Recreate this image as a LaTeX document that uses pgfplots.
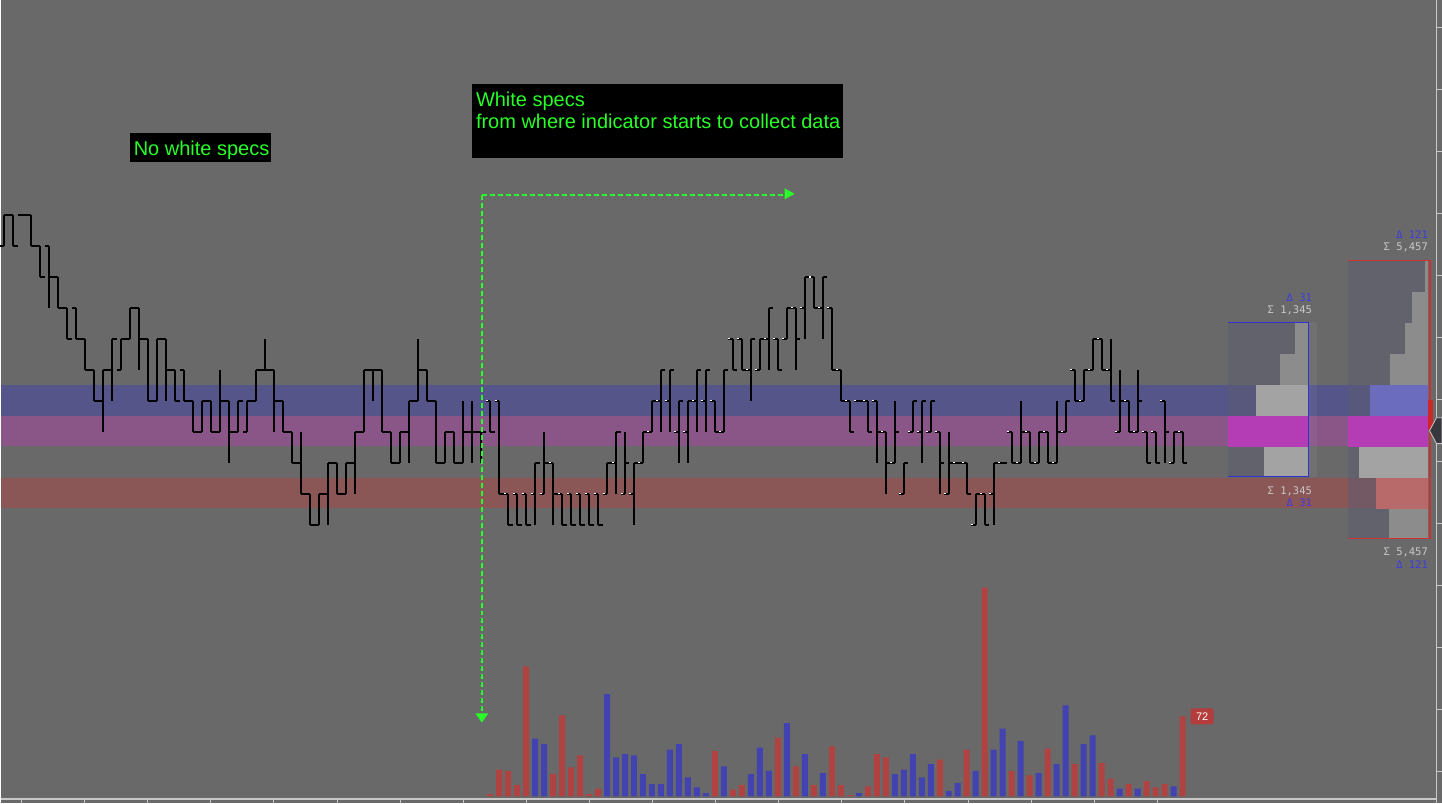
\documentclass[border=0pt]{standalone}
\usepackage{pgfplots}
\pgfplotsset{compat=1.18}
\usepackage{pgfplotstable}
\usepackage{fontspec}
\setmainfont{Liberation Sans}
\newfontfamily\monofont{DejaVu Sans Mono}

\definecolor{bg}{RGB}{105,105,105}
\definecolor{bandblue}{RGB}{85,85,138}
\definecolor{bandmag}{RGB}{138,85,135}
\definecolor{bandred}{RGB}{139,86,86}
\definecolor{profgray}{RGB}{140,140,140}
\definecolor{proflight}{RGB}{163,163,163}
\definecolor{profmag}{RGB}{180,60,180}
\definecolor{profblue}{RGB}{108,108,190}
\definecolor{profred}{RGB}{184,106,106}
\definecolor{boxbg}{RGB}{92,92,112}
\definecolor{volred}{RGB}{176,66,66}
\definecolor{volblue}{RGB}{66,66,176}
\definecolor{neon}{RGB}{40,255,40}
\definecolor{deltablue}{RGB}{60,60,225}
\definecolor{sigmagray}{RGB}{200,200,200}
\definecolor{axisgray}{RGB}{200,200,200}
\definecolor{boxblue}{RGB}{50,50,205}
\definecolor{boxred}{RGB}{205,50,50}
\definecolor{tagred}{RGB}{180,60,60}
\definecolor{markred}{RGB}{205,40,40}
\definecolor{pointer}{RGB}{55,55,62}

\pgfdeclareplotmark{ltick}{\pgfpathmoveto{\pgfqpoint{-4.5bp}{0pt}}\pgfpathlineto{\pgfqpoint{0pt}{0pt}}\pgfusepathqstroke}
\pgfdeclareplotmark{rtick}{\pgfpathmoveto{\pgfqpoint{0pt}{0pt}}\pgfpathlineto{\pgfqpoint{4.5bp}{0pt}}\pgfusepathqstroke}
\pgfdeclareplotmark{wspeck}{\pgfpathmoveto{\pgfqpoint{-4.5bp}{0pt}}\pgfpathlineto{\pgfqpoint{-2.5bp}{0pt}}\pgfusepathqstroke}

\pgfplotsset{pix/.style={width=1442bp,height=804bp,scale only axis,hide axis,at={(0,0)},anchor=south west}}

% price bars: bar index, low, high, open, close (in price levels)
\pgfplotstableread{
i lo hi o c
0 9 10 9 10
1 9 10 10 9
2 10 10 10 10
3 9 10 10 9
4 8 9 9 8
5 7 9 9 8
6 7 8 8 7
7 6 7 7 6
8 6 7 7 6
9 5 6 6 5
10 4 5 5 4
11 3 5 4 5
12 4 6 5 6
13 5 6 5 6
14 6 7 6 7
15 5 7 7 6
16 4 6 6 4
17 4 6 4 6
18 4 6 6 5
19 4 5 5 4
20 4 5 5 4
21 3 4 4 3
22 3 4 3 4
23 3 4 4 3
24 3 5 3 4
25 2 4 4 3
26 3 4 3 4
27 3 4 3 4
28 4 5 4 5
29 5 6 5 5
30 3 5 5 4
31 3 4 4 3
32 2 3 3 2
33 1 3 2 1
34 0 1 1 0
35 0 1 0 1
36 0 2 1 2
37 1 2 2 1
38 1 2 1 2
39 1 3 2 3
40 3 5 3 5
41 4 5 5 5
42 3 5 5 3
43 2 3 3 2
44 2 3 2 3
45 2 4 3 4
46 4 6 4 5
47 4 5 5 4
48 2 4 4 2
49 2 3 2 3
50 2 3 3 2
51 2 4 2 3
52 2 4 3 3
53 2 3 3 3
54 3 4 4 3
55 1 4 4 1
56 0 1 1 0
57 0 1 1 0
58 0 1 1 0
59 0 2 1 2
60 1 3 1 2
61 0 2 2 1
62 0 1 1 0
63 0 1 1 0
64 0 1 1 0
65 0 1 1 0
66 0 1 1 0
67 1 2 1 2
68 1 3 2 3
69 1 3 1 2
70 0 2 1 2
71 2 3 2 3
72 3 4 3 4
73 3 5 4 5
74 3 5 4 5
75 2 4 3 4
76 2 4 3 4
77 3 5 4 5
78 3 5 4 5
79 3 4 4 3
80 3 5 3 5
81 5 6 6 5
82 5 6 6 5
83 4 6 5 6
84 5 6 5 6
85 5 7 6 7
86 5 6 6 5
87 6 7 6 7
88 5 7 7 6
89 6 8 7 8
90 7 8 8 7
91 6 8 7 8
92 5 7 7 5
93 4 5 5 4
94 3 4 4 3
95 4 4 4 4
96 3 4 4 3
97 2 4 4 3
98 1 3 3 2
99 2 4 2 3
100 1 2 1 2
101 3 4 3 4
102 2 4 3 4
103 3 4 3 4
104 1 3 3 2
105 1 3 1 2
106 2 2 2 2
107 1 2 2 1
108 0 1 0 1
109 0 1 1 0
110 0 2 1 2
111 2 2 2 2
112 2 3 3 2
113 2 4 2 3
114 2 3 3 2
115 2 3 2 3
116 2 3 3 2
117 2 4 2 3
118 3 4 3 4
119 4 5 5 4
120 4 5 4 5
121 5 6 5 6
122 5 6 6 5
123 4 6 5 4
124 3 5 3 4
125 3 4 4 3
126 3 5 3 4
127 2 3 3 2
128 2 3 3 2
129 2 4 4 3
130 2 3 2 3
131 2 3 3 2
}\ohlc

\pgfplotstableread{
i v
54 2
55 24
56 23
57 10
58 117
61 20
62 73
63 26
64 37
65 2
66 7
79 41
81 6
82 10
86 53
88 27
90 10
92 45
93 10
94 1
96 9
97 38
98 35
104 33
107 42
109 188
112 23
114 19
116 43
119 29
122 30
123 16
125 11
127 14
128 8
129 11
131 72
}\volred

\pgfplotstableread{
i v
59 52
60 47
67 92
68 35
69 38
70 37
71 20
72 11
73 11
74 42
75 47
76 17
77 8
78 3
80 27
83 20
84 44
85 23
87 66
89 38
91 21
95 3
99 20
100 24
101 38
102 17
103 29
105 5
106 12
108 23
110 42
111 61
113 50
115 21
117 29
118 82
120 47
121 55
124 7
126 7
130 9
}\volblue

\begin{document}
\begin{tikzpicture}
% ---------- background, level bands, volume profiles (pixel frame) ----------
\begin{axis}[pix, xmin=0, xmax=1442, ymin=0, ymax=804, y dir=reverse]
\fill[bg] (0,0) rectangle (1442,804);
\fill[bandblue] (0,385.5) rectangle (1428,416);
\fill[bandmag] (0,416) rectangle (1428,446.5);
\fill[bandred] (0,478) rectangle (1428,508.5);
\fill[boxbg, opacity=0.5] (1228,322.5) rectangle (1308,477);
\fill[boxbg, opacity=0.5] (1348,261) rectangle (1428,539);
\fill[white, opacity=0.05] (1309,322.5) rectangle (1317,477);
% profile 1
\addplot[fill=profgray, draw=none] coordinates {(1295,323) (1307.5,323) (1307.5,354) (1295,354)} -- cycle;
\addplot[fill=profgray, draw=none] coordinates {(1280,354) (1307.5,354) (1307.5,385) (1280,385)} -- cycle;
\addplot[fill=proflight, draw=none] coordinates {(1256,385) (1307.5,385) (1307.5,416) (1256,416)} -- cycle;
\addplot[fill=profmag, draw=none] coordinates {(1228,416) (1307.5,416) (1307.5,447) (1228,447)} -- cycle;
\addplot[fill=proflight, draw=none] coordinates {(1264,447) (1307.5,447) (1307.5,477) (1264,477)} -- cycle;
% profile 2
\addplot[fill=profgray, draw=none] coordinates {(1425,261) (1427.5,261) (1427.5,292) (1425,292)} -- cycle;
\addplot[fill=profgray, draw=none] coordinates {(1412,292) (1427.5,292) (1427.5,323) (1412,323)} -- cycle;
\addplot[fill=profgray, draw=none] coordinates {(1405,323) (1427.5,323) (1427.5,354) (1405,354)} -- cycle;
\addplot[fill=profgray, draw=none] coordinates {(1390,354) (1427.5,354) (1427.5,385) (1390,385)} -- cycle;
\addplot[fill=profblue, draw=none] coordinates {(1370,385) (1427.5,385) (1427.5,416) (1370,416)} -- cycle;
\addplot[fill=profmag, draw=none] coordinates {(1348,416) (1427.5,416) (1427.5,447) (1348,447)} -- cycle;
\addplot[fill=proflight, draw=none] coordinates {(1359,447) (1427.5,447) (1427.5,478) (1359,478)} -- cycle;
\addplot[fill=profred, draw=none] coordinates {(1376,478) (1427.5,478) (1427.5,509) (1376,509)} -- cycle;
\addplot[fill=profgray, draw=none] coordinates {(1389,509) (1427.5,509) (1427.5,539) (1389,539)} -- cycle;
% box outlines
\draw[boxblue, line width=1.2bp] (1228,322.5) -- (1308.3,322.5) -- (1308.3,477) -- (1228,477);
\draw[boxred, line width=1.2bp] (1348,261) -- (1430,261) -- (1430,539) -- (1348,539);
\fill[markred] (1428,400) rectangle (1433,430);
% labels of the profiles
\node[anchor=east, text=deltablue, inner sep=0, font={\monofont\fontsize{10.5bp}{12bp}\selectfont}] at (1312,297.5) {Δ 31};
\node[anchor=east, text=sigmagray, inner sep=0, font={\monofont\fontsize{10.5bp}{12bp}\selectfont}] at (1312,310.5) {Σ 1,345};
\node[anchor=east, text=sigmagray, inner sep=0, font={\monofont\fontsize{10.5bp}{12bp}\selectfont}] at (1312,491.5) {Σ 1,345};
\node[anchor=east, text=deltablue, inner sep=0, font={\monofont\fontsize{10.5bp}{12bp}\selectfont}] at (1312,503.5) {Δ 31};
\node[anchor=east, text=deltablue, inner sep=0, font={\monofont\fontsize{10.5bp}{12bp}\selectfont}] at (1428,235) {Δ 121};
\node[anchor=east, text=sigmagray, inner sep=0, font={\monofont\fontsize{10.5bp}{12bp}\selectfont}] at (1428,248) {Σ 5,457};
\node[anchor=east, text=sigmagray, inner sep=0, font={\monofont\fontsize{10.5bp}{12bp}\selectfont}] at (1428,553) {Σ 5,457};
\node[anchor=east, text=deltablue, inner sep=0, font={\monofont\fontsize{10.5bp}{12bp}\selectfont}] at (1428,565.5) {Δ 121};
% frame axes
\draw[axisgray, line width=1.2bp] (1436.5,0) -- (1436.5,804);
\draw[axisgray, line width=1.5bp] (0,799.5) -- (1436.5,799.5);
\pgfplotsinvokeforeach{28,90,152,214,276,338,400,462,524,586,648,710,772}{\draw[axisgray, line width=1bp] (1436.5,#1) -- (1442,#1);}
\pgfplotsinvokeforeach{20.3,83.5,146.6,209.8,272.9,336.1,399.2,462.4,525.5,588.7,651.8,715,778.1,841.3,904.4,967.6,1030.7,1093.9,1157}{\draw[axisgray, line width=1bp] (#1,799.5) -- (#1,804);}
\filldraw[fill=pointer, draw=axisgray, line width=0.8bp] (1429.5,431) -- (1436.5,418) -- (1442,418) -- (1442,444) -- (1436.5,444) -- cycle;
\end{axis}

% ---------- price bars (bar index vs price level) ----------
\begin{axis}[pix, xmin=-0.36667, xmax=159.8556, ymin=-9, ymax=16.9355]
\addplot[draw=none, mark=none, error bars/.cd, y dir=both, y explicit, error mark=none,
  error bar style={draw=black, solid, line width=2bp, line cap=butt}]
  table[x=i, y expr={(\thisrow{lo}+\thisrow{hi})/2}, y error expr={(\thisrow{hi}-\thisrow{lo})/2}] {\ohlc};
\addplot[only marks, mark=ltick, mark options={draw=black, solid, line width=2bp, line cap=butt}] table[x=i, y=o] {\ohlc};
\addplot[only marks, mark=rtick, mark options={draw=black, solid, line width=2bp, line cap=butt}] table[x=i, y=c] {\ohlc};
\addplot[only marks, mark=wspeck, mark options={draw=white, solid, line width=1.5bp, line cap=butt}, restrict x to domain=54:131] table[x=i, y=o] {\ohlc};
\end{axis}

% ---------- volume bars ----------
\begin{axis}[pix, xmin=-0.36667, xmax=159.8556, ymin=-6.3, ymax=717.4, ybar, bar width=6bp, bar shift=0pt]
\addplot[ybar, bar shift=0pt, bar width=6bp, fill=volred, draw=none] table[x=i, y=v] {\volred};
\addplot[ybar, bar shift=0pt, bar width=6bp, fill=volblue, draw=none] table[x=i, y=v] {\volblue};
\end{axis}

% ---------- annotations ----------
\begin{axis}[pix, xmin=0, xmax=1442, ymin=0, ymax=804, y dir=reverse]
\fill[black] (129,133) rectangle (270,162);
\node[anchor=base west, text=neon, inner sep=0, font={\fontsize{20bp}{24bp}\selectfont}] at (132.5,155.5) {No white specs};
\fill[black] (471,84) rectangle (842,158);
\node[anchor=base west, text=neon, inner sep=0, font={\fontsize{20bp}{24bp}\selectfont}] at (475,107) {White specs};
\node[anchor=base west, text=neon, inner sep=0, font={\fontsize{20bp}{24bp}\selectfont}] at (475,129) {from where indicator starts to collect data};
\draw[neon, line width=2bp, dash pattern=on 5bp off 3bp] (481,195) -- (785,195);
\fill[neon] (794,194) -- (784,188.5) -- (784,199.5) -- cycle;
\draw[neon, line width=2bp, dash pattern=on 5bp off 3bp] (481,195) -- (481,714);
\fill[neon] (481,723) -- (474.5,714) -- (487.5,714) -- cycle;
\node[fill=tagred, text=white, rounded corners=2bp, minimum width=23bp, minimum height=16bp, inner sep=0, font={\fontsize{11bp}{13bp}\selectfont}] at (1202,717) {72};
\end{axis}
\end{tikzpicture}
\end{document}
